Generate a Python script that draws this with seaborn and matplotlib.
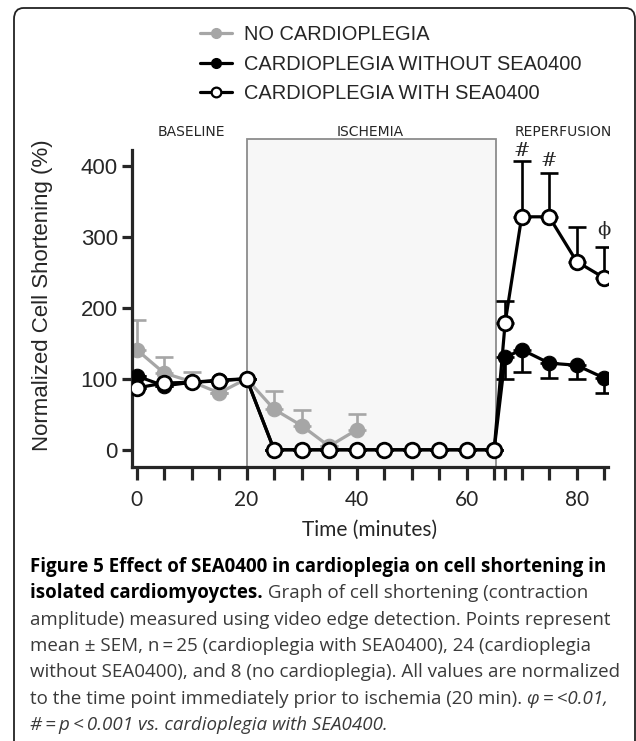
import numpy as np
import pandas as pd
import matplotlib
matplotlib.use("Agg")
import matplotlib.pyplot as plt
from matplotlib.lines import Line2D
from matplotlib.patches import Rectangle, FancyBboxPatch
import seaborn as sns

# time points (minutes)
t_no = [0, 5, 10, 15, 20, 25, 30, 35, 40]
t_all = [0, 5, 10, 15, 20, 25, 30, 35, 40, 45, 50, 55, 60, 65, 67, 70, 75, 80, 85]

# no cardioplegia (grey), error bars upward
no_mean = [141, 108, 96, 80, 100, 57, 34, 5, 28]
no_err = [42, 23, 14, 0, 0, 26, 22, 0, 23]

# cardioplegia without SEA0400 (filled black), error bars downward
wo_mean = [104, 90, 95, 98, 100, 0, 0, 0, 0, 0, 0, 0, 0, 0, 130, 141, 122, 119, 101]
wo_err = [0, 0, 0, 0, 0, 0, 0, 0, 0, 0, 0, 0, 0, 0, 31, 31, 21, 19, 21]

# cardioplegia with SEA0400 (open circles), error bars upward
w_mean = [87, 94, 95, 97, 100, 0, 0, 0, 0, 0, 0, 0, 0, 0, 179, 328, 328, 265, 242]
w_err = [0, 0, 0, 0, 0, 0, 0, 0, 0, 0, 0, 0, 0, 0, 31, 78, 61, 48, 44]

labels = ["NO CARDIOPLEGIA", "CARDIOPLEGIA WITHOUT SEA0400", "CARDIOPLEGIA WITH SEA0400"]
phases = ["BASELINE", "ISCHEMIA", "REPERFUSION"]
phase_x = [10, 42.5, 77.5]
ischemia = (20, 65.4)
x_ticks = [0, 5, 10, 15, 20, 25, 30, 35, 40, 45, 50, 55, 60, 65, 67, 70, 75, 80, 85]
x_labeled = [0, 20, 40, 60, 80]
y_ticks = [0, 100, 200, 300, 400]
marks = [("#", 70, 421), ("#", 75, 406), ("\u03d5", 85, 310)]

df = pd.concat([
    pd.DataFrame({"t": t_no, "v": no_mean, "g": labels[0]}),
    pd.DataFrame({"t": t_all, "v": wo_mean, "g": labels[1]}),
    pd.DataFrame({"t": t_all, "v": w_mean, "g": labels[2]}),
])

sns.set_style("ticks")
plt.rcParams["font.family"] = ["Liberation Sans", "DejaVu Sans"]

fig = plt.figure(figsize=(6.36, 7.41), dpi=100)
ax = fig.add_axes([0.207, 0.370, 0.749, 0.428])

grey = "#a6a6a6"
lw = 2.3
ms = 10.5

# ischemia shaded box (extends above the axis top)
ax.add_patch(Rectangle((ischemia[0], -24), ischemia[1] - ischemia[0], 462,
                       facecolor="#f7f7f7", edgecolor="#8c8c8c", lw=1.3,
                       clip_on=False, zorder=0))

# error bars
ax.errorbar(t_no, no_mean, yerr=[np.zeros(len(no_err)), no_err], fmt="none",
            ecolor=grey, elinewidth=1.9, capsize=6.5, capthick=1.9, zorder=1)
ax.errorbar(t_all, wo_mean, yerr=[wo_err, np.zeros(len(wo_err))], fmt="none",
            ecolor="black", elinewidth=1.9, capsize=6.5, capthick=1.9, zorder=3)
ax.errorbar(t_all, w_mean, yerr=[np.zeros(len(w_err)), w_err], fmt="none",
            ecolor="black", elinewidth=1.9, capsize=6.5, capthick=1.9, zorder=5)

sns.lineplot(data=df[df.g == labels[0]], x="t", y="v", ax=ax, color=grey, lw=lw,
             marker="o", markersize=ms, markerfacecolor=grey, markeredgecolor=grey,
             zorder=2, legend=False)
sns.lineplot(data=df[df.g == labels[1]], x="t", y="v", ax=ax, color="black", lw=lw,
             marker="o", markersize=ms, markerfacecolor="black", markeredgecolor="black",
             zorder=4, legend=False)
sns.lineplot(data=df[df.g == labels[2]], x="t", y="v", ax=ax, color="black", lw=lw,
             marker="o", markersize=ms, markerfacecolor="white", markeredgecolor="black",
             markeredgewidth=2.0, zorder=6, legend=False)

for s, x, y in marks:
    ax.text(x, y, s, ha="center", va="center", fontsize=14,
            family=["DejaVu Serif"], clip_on=False)

ax.set_xlim(-0.9, 85.7)
ax.set_ylim(-24, 422.5)
ax.set_xticks(x_ticks)
ax.set_xticklabels([str(x) if x in x_labeled else "" for x in x_ticks],
                   family=["Lato", "DejaVu Sans"], fontsize=15)
ax.set_yticks(y_ticks)
ax.set_yticklabels([str(y) for y in y_ticks], fontsize=16)
ax.tick_params(axis="x", length=9, width=2.3, direction="out", pad=8)
ax.tick_params(axis="y", length=7, width=2.3, direction="out", pad=3)
sns.despine(ax=ax)
for sp in ("left", "bottom"):
    ax.spines[sp].set_linewidth(2.3)
ax.set_xlabel("Time (minutes)", family=["Lato", "DejaVu Sans"], fontsize=15, labelpad=7)
ax.set_ylabel("Normalized Cell Shortening (%)", fontsize=16)
ax.yaxis.set_label_coords(-0.165, 0.54)

for name, x in zip(phases, phase_x):
    ax.text(x, 448, name, ha="center", va="center", fontsize=10,
            family=["Liberation Sans Narrow", "DejaVu Sans"], clip_on=False)

# legend
handles = [
    Line2D([], [], color=grey, lw=lw, marker="o", ms=7, mfc=grey, mec=grey),
    Line2D([], [], color="black", lw=lw, marker="o", ms=7, mfc="black", mec="black"),
    Line2D([], [], color="black", lw=lw, marker="o", ms=7, mfc="white", mec="black", mew=1.6),
]
fig.legend(handles, labels, loc="upper left", bbox_to_anchor=(0.286, 0.99),
           frameon=False, fontsize=14.4, handlelength=1.6, handletextpad=0.6,
           labelspacing=0.51)

# figure frame
fig.patches.append(FancyBboxPatch((14 / 636, -0.05), (635 - 14) / 636, 1.05 - 8 / 741,
                                  boxstyle="round,pad=0,rounding_size=0.015",
                                  transform=fig.transFigure, facecolor="none",
                                  edgecolor="#222222", lw=1.3, clip_on=False))

# caption
cap_font = ["Open Sans", "DejaVu Sans"]
cap_size = 13.5
renderer = fig.canvas.get_renderer()
lines = [
    [("Figure 5 Effect of SEA0400 in cardioplegia on cell shortening in", "bold", "normal")],
    [("isolated cardiomyoyctes.", "bold", "normal"),
     (" Graph of cell shortening (contraction", "normal", "normal")],
    [("amplitude) measured using video edge detection. Points represent", "normal", "normal")],
    [("mean \u00b1 SEM, n\u2009=\u200925 (cardioplegia with SEA0400), 24 (cardioplegia", "normal", "normal")],
    [("without SEA0400), and 8 (no cardioplegia). All values are normalized", "normal", "normal")],
    [("to the time point immediately prior to ischemia (20 min). ", "normal", "normal"),
     ("\u03c6\u2009=\u2009<0.01,", "normal", "italic")],
    [("#\u2009=\u2009p\u2009<\u20090.001 vs. cardioplegia with SEA0400.", "normal", "italic")],
]
y0 = 1 - 567 / 741
dy = 26.3 / 741
for i, parts in enumerate(lines):
    x = 30 / 636
    for txt, wt, st in parts:
        color = "black" if wt == "bold" else "#3a3a3a"
        t = fig.text(x, y0 - i * dy, txt, fontsize=cap_size, family=cap_font,
                     weight=wt, style=st, color=color, va="center", ha="left")
        bb = t.get_window_extent(renderer=renderer)
        x = bb.x1 / 636

fig.savefig("out.png", dpi=100)
